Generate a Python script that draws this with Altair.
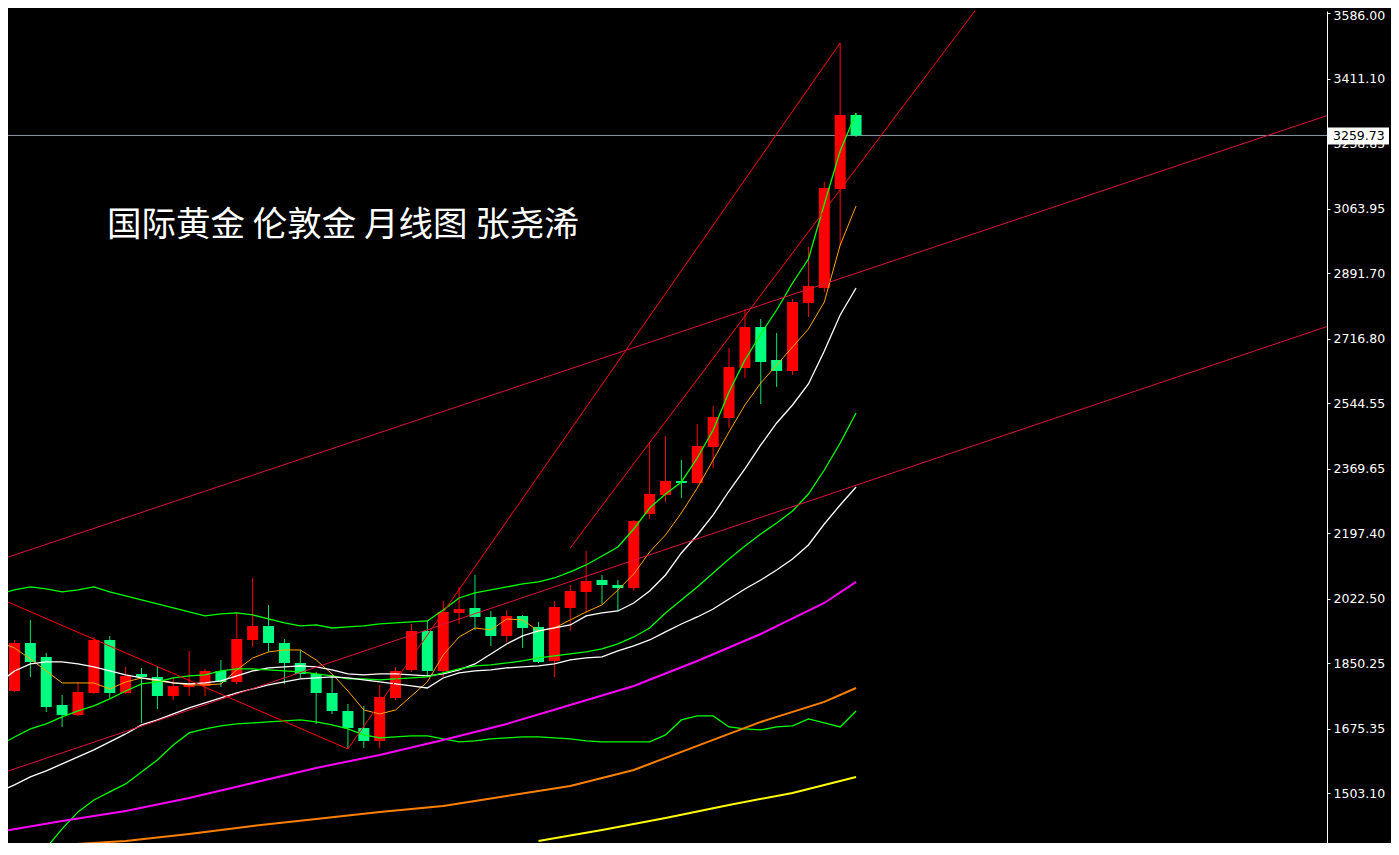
import altair as alt
import pandas as pd

TITLE = "国际黄金 伦敦金 月线图 张尧浠"
LAST_PRICE = 3259.73
TICKS = [3586.00, 3411.10, 3238.85, 3063.95, 2891.70, 2716.80, 2544.55,
         2369.65, 2197.40, 2022.50, 1850.25, 1675.35, 1503.10]

# monthly candles (index 0..53)
opens = [1776.2, 1904.4, 1867.0, 1738.9, 1712.1, 1770.9, 1912.4, 1770.9, 1821.6, 1813.6,
         1762.9, 1786.5, 1789.6, 1829.6, 1800.3, 1912.4, 1949.8, 1904.4, 1851.0, 1821.6,
         1770.9, 1722.8, 1677.4, 1642.7, 1757.5, 1832.3, 1936.5, 1829.6, 1984.6, 1997.9,
         1973.9, 1923.1, 1976.5, 1947.2, 1856.3, 1997.9, 2040.6, 2072.7, 2059.3, 2051.3,
         2248.9, 2299.6, 2337.0, 2331.7, 2427.8, 2505.3, 2638.8, 2748.3, 2660.2, 2630.8,
         2812.4, 2852.4, 3116.8, 3314.4]
highs = [1912.4, 1965.9, 1877.7, 1765.5, 1800.3, 1920.4, 1923.1, 1840.3, 1837.6, 1840.3,
         1810.9, 1883.0, 1834.9, 1859.0, 1984.6, 2078.0, 2006.0, 1915.1, 1885.7, 1827.0,
         1818.9, 1741.5, 1736.2, 1792.3, 1840.3, 1955.2, 1963.2, 2016.6, 2054.0, 2086.0,
         1989.9, 1992.6, 1979.2, 1960.6, 2016.6, 2059.3, 2150.1, 2086.0, 2072.7, 2232.9,
         2438.5, 2457.2, 2393.1, 2489.3, 2537.3, 2692.2, 2796.4, 2769.6, 2732.3, 2823.0,
         2961.9, 3135.5, 3506.7, 3319.7]
lows = [1773.5, 1813.6, 1720.2, 1680.1, 1709.5, 1768.3, 1757.5, 1768.0, 1690.8, 1728.2,
        1752.2, 1762.9, 1762.9, 1786.9, 1794.9, 1893.7, 1880.4, 1794.9, 1810.9, 1688.1,
        1714.8, 1621.4, 1624.1, 1624.1, 1752.2, 1827.0, 1813.6, 1813.6, 1955.2, 1939.1,
        1896.4, 1907.1, 1891.0, 1851.0, 1813.6, 1936.5, 1984.6, 2008.6, 1989.9, 2043.3,
        2235.6, 2281.0, 2291.6, 2329.0, 2371.7, 2478.6, 2612.1, 2542.6, 2588.1, 2620.1,
        2775.0, 2841.8, 2964.6, 3255.7]
closes = [1904.4, 1853.7, 1733.5, 1712.1, 1773.6, 1912.4, 1770.9, 1816.3, 1813.6, 1762.9,
          1789.2, 1794.5, 1829.6, 1800.3, 1915.1, 1949.8, 1904.4, 1851.0, 1821.6, 1770.9,
          1722.8, 1677.4, 1642.7, 1760.2, 1829.6, 1936.5, 1829.6, 1987.2, 1995.3, 1973.9,
          1923.1, 1976.5, 1944.5, 1853.7, 2000.6, 2043.3, 2070.0, 2059.3, 2051.3, 2230.2,
          2302.3, 2337.0, 2331.7, 2430.5, 2507.9, 2641.5, 2748.3, 2654.8, 2630.8, 2815.0,
          2857.8, 3119.4, 3314.4, 3259.73]

# indicator lines, values at candle index -1..53
ma_orange = [1907.2, 1891.1, 1861.8, 1829.7, 1797.7, 1797.7, 1797.7, 1781.7, 1800.4, 1811.0,
             1803.0, 1797.7, 1792.4, 1792.4, 1795.0, 1832.4, 1864.4, 1880.5, 1885.8, 1885.8,
             1859.1, 1821.7, 1776.3, 1725.6, 1714.9, 1725.6, 1763.0, 1800.4, 1872.5, 1920.5,
             1944.5, 1939.2, 1968.6, 1965.9, 1936.5, 1944.5, 1965.9, 1987.3, 2006.0, 2046.0,
             2088.7, 2147.5, 2192.9, 2251.6, 2318.3, 2393.1, 2467.9, 2540.0, 2598.7, 2646.8,
             2694.8, 2742.9, 2815.0, 2967.1, 3071.3]
band_upper = [2035.3, 2046.0, 2054.0, 2048.7, 2040.7, 2046.0, 2054.0, 2040.7, 2030.0, 2019.3,
              2008.6, 1997.9, 1987.3, 1976.6, 1981.9, 1984.6, 1979.3, 1968.6, 1957.9, 1949.9,
              1952.6, 1944.5, 1947.2, 1949.9, 1955.2, 1957.9, 1960.6, 1963.2, 1992.6, 2024.6,
              2038.0, 2046.0, 2054.0, 2062.0, 2067.4, 2078.0, 2094.1, 2112.8, 2136.8, 2160.8,
              2208.9, 2264.9, 2302.3, 2334.4, 2398.4, 2473.2, 2574.7, 2660.1, 2729.5, 2793.6,
              2865.7, 2929.8, 3076.6, 3218.1, 3319.6]
ma_white1 = [1797.7, 1829.7, 1848.4, 1853.8, 1853.8, 1848.4, 1840.4, 1829.7, 1819.1, 1811.0,
             1805.7, 1797.7, 1795.0, 1797.7, 1803.0, 1816.4, 1829.7, 1837.7, 1840.4, 1843.1,
             1840.4, 1832.4, 1821.7, 1819.1, 1821.7, 1821.7, 1819.1, 1816.4, 1821.7, 1832.4,
             1848.4, 1875.1, 1901.8, 1923.2, 1936.5, 1944.5, 1952.6, 1976.6, 1984.6, 1989.9,
             2011.3, 2043.3, 2086.1, 2144.8, 2192.9, 2246.3, 2310.3, 2369.1, 2433.2, 2491.9,
             2540.0, 2596.0, 2684.1, 2780.3, 2852.3]
ma_green2 = [1629.5, 1653.5, 1674.9, 1688.2, 1706.9, 1722.9, 1736.3, 1755.0, 1776.3, 1795.0,
             1800.4, 1811.0, 1816.4, 1819.1, 1829.7, 1835.1, 1835.1, 1832.4, 1829.7, 1827.1,
             1821.7, 1816.4, 1808.4, 1808.4, 1805.7, 1808.4, 1811.0, 1813.7, 1824.4, 1835.1,
             1843.1, 1845.8, 1851.1, 1856.4, 1864.4, 1869.8, 1875.1, 1880.5, 1888.5, 1901.8,
             1920.5, 1944.5, 1984.6, 2019.3, 2054.0, 2091.4, 2128.8, 2163.5, 2195.5, 2224.9,
             2256.9, 2302.3, 2366.4, 2438.5, 2518.6]
ma_white2 = [1506.7, 1525.4, 1546.7, 1562.7, 1581.4, 1600.1, 1618.8, 1640.2, 1661.5, 1685.6,
             1698.9, 1714.9, 1730.9, 1744.3, 1757.6, 1771.0, 1781.7, 1792.4, 1800.4, 1808.4,
             1811.0, 1813.7, 1811.0, 1805.7, 1800.4, 1795.0, 1789.7, 1784.3, 1811.0, 1824.4,
             1829.7, 1832.4, 1837.7, 1840.4, 1843.1, 1848.4, 1859.1, 1864.4, 1867.1, 1883.1,
             1896.5, 1912.5, 1933.9, 1955.2, 1973.9, 1995.3, 2022.0, 2048.7, 2072.7, 2099.4,
             2128.8, 2166.2, 2222.2, 2273.0, 2321.0]
# lower band, index 1..53
band_lower = [1303.7, 1357.1, 1407.9, 1453.3, 1485.3, 1506.7, 1528.0, 1560.1, 1592.1,
              1632.2, 1664.2, 1674.9, 1682.9, 1688.2, 1690.9, 1693.6, 1696.2, 1698.9, 1693.6,
              1685.6, 1674.9, 1658.9, 1650.8, 1653.5, 1656.2, 1656.2, 1648.2, 1640.2, 1642.8,
              1648.2, 1650.8, 1653.5, 1653.5, 1650.8, 1648.2, 1642.8, 1640.2, 1640.2, 1640.2,
              1640.2, 1658.9, 1698.9, 1709.6, 1709.6, 1680.2, 1674.9, 1672.2, 1680.2, 1682.9,
              1701.6, 1690.9, 1680.2, 1722.9]
# long averages, sampled every 4 months
long_idx = [-1, 3, 7, 11, 15, 19, 23, 27, 31, 35, 39, 43, 47, 51, 53]
ma_magenta = [1399.9, 1429.2, 1455.9, 1490.6, 1530.7, 1570.7, 1605.5, 1645.5, 1688.2,
              1739.0, 1789.7, 1856.4, 1928.5, 2011.3, 2067.4]
ma_orange_long = [1365.2, 1365.2, 1375.8, 1394.5, 1415.9, 1434.6, 1453.3, 1469.3, 1496.0,
                  1522.7, 1565.4, 1629.5, 1693.6, 1747.0, 1784.3]
yellow_idx = [33, 37, 41, 45, 49, 53]
ma_yellow = [1375.8, 1405.2, 1437.2, 1472.0, 1504.0, 1546.7]

# trend lines: start index, start price, end index, end price
trend_x1 = [-1, 21, 35.0, -1, -1]
trend_y1 = [2024.6, 1621.4, 2158.1, 2125.3, 1553.9]
trend_x2 = [21, 52, 61, 83, 83]
trend_y2 = [1621.4, 3506.7, 3621.3, 3317.7, 2754.4]
trend_col = ["#FF0000", "#FF0000", "#FF0000", "#DC143C", "#DC143C"]

# ---------------------------------------------------------------------------
n = len(opens)
candles = pd.DataFrame({"i": list(range(n)), "open": opens, "high": highs,
                        "low": lows, "close": closes})

rows = []
def add_line(name, idx, vals, color, width):
    for k, v in zip(idx, vals):
        rows.append({"i": k, "v": v, "name": name, "c": color, "w": width})

full = list(range(-1, 54))
add_line("ma_orange", full, ma_orange, "#FFA500", 1)
add_line("band_upper", full, band_upper, "#00FF00", 1.3)
add_line("ma_white1", full, ma_white1, "#FFFFFF", 1.3)
add_line("ma_green2", full, ma_green2, "#00FF00", 1.3)
add_line("ma_white2", full, ma_white2, "#FFFFFF", 1.3)
add_line("band_lower", list(range(1, 54)), band_lower, "#00FF00", 1.3)
add_line("ma_magenta", long_idx, ma_magenta, "#FF00FF", 2)
add_line("ma_orange_long", long_idx, ma_orange_long, "#FF8000", 2)
add_line("ma_yellow", yellow_idx, ma_yellow, "#FFFF00", 2)
lines = pd.DataFrame(rows)

trends = pd.DataFrame({"x1": trend_x1, "y1": trend_y1, "x2": trend_x2,
                       "y2": trend_y2, "c": trend_col})

XS = alt.Scale(domain=[-0.09375, 82.34375], nice=False, zero=False)
YS = alt.Scale(domain=[1370.3, 3592.1], nice=False, zero=False)
YAX = alt.Axis(orient="right", values=TICKS, format=".2f", title="", grid=False,
               domainColor="#FFFFFF", domainWidth=1, tickColor="#FFFFFF", tickSize=3,
               labelColor="#FFFFFF", labelFont="DejaVu Sans", labelFontSize=12.5,
               labelPadding=3,
               labelOffset={"condition": {"test": "datum.value > 3500", "value": 2},
                            "value": 0})

price_df = pd.DataFrame({"p": [LAST_PRICE]})

price_line = alt.Chart(price_df).mark_rule(color="#8C96A0", strokeWidth=1).encode(
    y=alt.Y("p:Q", scale=YS, axis=YAX))

up = "datum.close >= datum.open"
wicks = alt.Chart(candles).mark_rule(strokeWidth=1).encode(
    x=alt.X("i:Q", scale=XS, axis=None),
    y=alt.Y("low:Q", scale=YS, axis=YAX),
    y2="high:Q",
    color=alt.condition(up, alt.value("#FF0000"), alt.value("#00E868")))

bodies = alt.Chart(candles).mark_bar(size=11).encode(
    x=alt.X("i:Q", scale=XS, axis=None),
    y=alt.Y("open:Q", scale=YS, axis=YAX),
    y2="close:Q",
    color=alt.condition(up, alt.value("#FF0000"), alt.value("#00FF7F")))

ma_layer = alt.Chart(lines).mark_line(clip=True).encode(
    x=alt.X("i:Q", scale=XS, axis=None),
    y=alt.Y("v:Q", scale=YS, axis=YAX),
    detail="name:N",
    color=alt.Color("c:N", scale=None),
    strokeWidth=alt.StrokeWidth("w:Q", scale=None))

trend_layer = alt.Chart(trends).mark_rule(clip=True, strokeWidth=1).encode(
    x=alt.X("x1:Q", scale=XS, axis=None),
    y=alt.Y("y1:Q", scale=YS, axis=YAX),
    x2="x2:Q", y2="y2:Q",
    color=alt.Color("c:N", scale=None))

label_box = alt.Chart(price_df).mark_rect(color="#FFFFFF", yOffset=-8, y2Offset=9).encode(
    x=alt.value(1320), x2=alt.value(1381),
    y=alt.Y("p:Q", scale=YS, axis=YAX), y2="p:Q")

label_text = alt.Chart(price_df).mark_text(
    color="#000000", font="DejaVu Sans", fontSize=12.5, align="left", baseline="middle",
    dy=1).encode(
    x=alt.value(1325),
    y=alt.Y("p:Q", scale=YS, axis=YAX),
    text=alt.Text("p:Q", format=".2f"))

title_layer = alt.Chart(pd.DataFrame({"t": [TITLE]})).mark_text(
    align="left", baseline="middle", font="Noto Sans CJK SC", fontSize=34.5,
    color="#FFFFFF").encode(x=alt.value(99), y=alt.value(215), text="t:N")

chart = alt.layer(price_line, wicks, bodies, ma_layer, trend_layer,
                  label_box, label_text, title_layer).properties(
    width=1319, height=832, background="#000000",
    padding={"left": 0, "top": 3, "right": 64, "bottom": 0},
    autosize=alt.AutoSizeParams(type="none"),
).configure_view(strokeWidth=0)

chart.save("out.html", embed_options={"renderer": "svg", "actions": False})
